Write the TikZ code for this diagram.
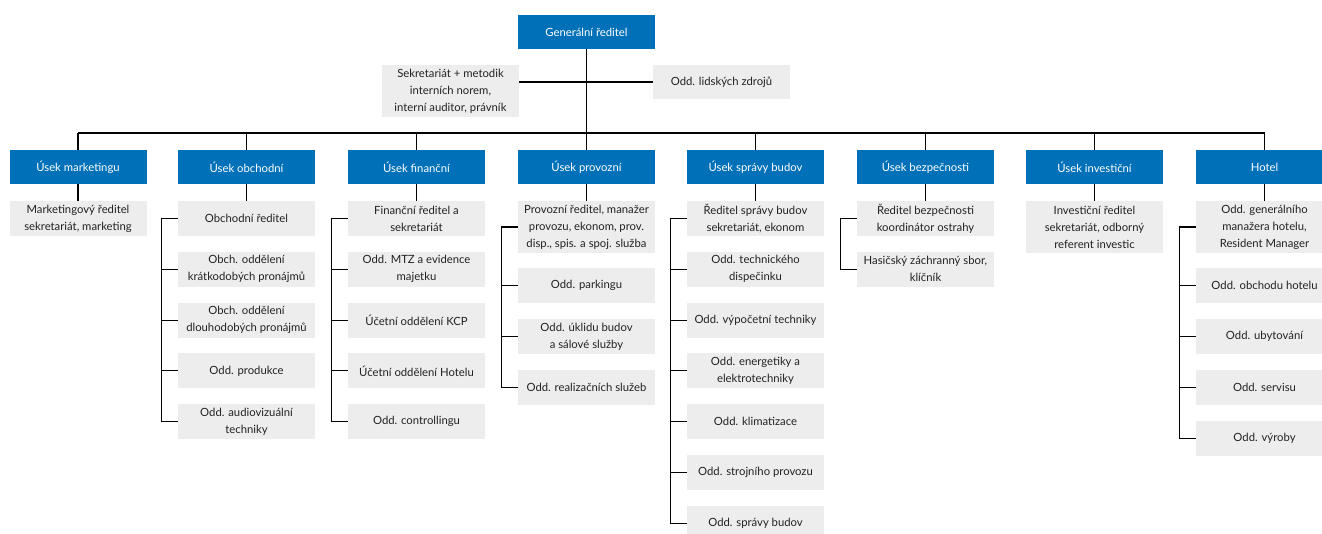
\documentclass[tikz,border=0pt]{standalone}
\usepackage{fontspec}
\setmainfont{Lato}
\definecolor{hdrblue}{HTML}{0070B8}
\definecolor{boxgray}{HTML}{EDEDED}
\definecolor{txtgray}{HTML}{222222}
\begin{document}
\begin{tikzpicture}[x=1pt,y=-1pt,
  base/.style={inner sep=0pt,minimum width=137pt,align=center,font=\fontsize{11.3}{17}\selectfont},
  hdr/.style={base,fill=hdrblue,text=white,minimum height=34pt},
  box/.style={base,fill=boxgray,text=txtgray,minimum height=35pt},
  tall/.style={base,fill=boxgray,text=txtgray,minimum height=52pt},
  conn/.style={draw=black,line width=1.1pt}]
\useasboundingbox (0,0) rectangle (1322,533);
\coordinate (bus) at (0,133);
% top
\node[hdr] (gr) at (586.5,32) {Generální ředitel};
\node[tall] (sek) at (450.5,91) {Sekretariát + metodik\\interních norem,\\interní auditor, právník};
\node[base,fill=boxgray,text=txtgray,minimum height=34pt] (lz) at (721.5,82) {Odd. lidských zdrojů};
% headers
\node[hdr] (h1) at (78,167) {Úsek marketingu};
\node[hdr] (h2) at (246.5,167) {Úsek obchodní};
\node[hdr] (h3) at (416.5,167) {Úsek finanční};
\node[hdr] (h4) at (586.5,167) {Úsek provozní};
\node[hdr] (h5) at (755.5,167) {Úsek správy budov};
\node[hdr] (h6) at (925.5,167) {Úsek bezpečnosti};
\node[hdr] (h7) at (1094.5,167) {Úsek investiční};
\node[hdr] (h8) at (1264.5,167) {Hotel};
% marketing
\node[box] (m1) at (78,218.5) {Marketingový ředitel\\sekretariát, marketing};
% obchodni
\node[box] (o1) at (246.5,218.5) {Obchodní ředitel};
\node[box] (o2) at (246.5,269.3) {Obch. oddělení\\krátkodobých pronájmů};
\node[box] (o3) at (246.5,320.1) {Obch. oddělení\\dlouhodobých pronájmů};
\node[box] (o4) at (246.5,370.9) {Odd. produkce};
\node[box] (o5) at (246.5,421.7) {Odd. audiovizuální\\techniky};
% financni
\node[box] (f1) at (416.5,218.5) {Finanční ředitel a\\sekretariát};
\node[box] (f2) at (416.5,269.3) {Odd. MTZ a evidence\\majetku};
\node[box] (f3) at (416.5,320.1) {Účetní oddělení KCP};
\node[box] (f4) at (416.5,370.9) {Účetní oddělení Hotelu};
\node[box] (f5) at (416.5,421.7) {Odd. controllingu};
% provozni
\node[tall] (p1) at (586.5,227) {Provozní ředitel, manažer\\provozu, ekonom, prov.\\disp., spis. a spoj. služba};
\node[box] (p2) at (586.5,285.5) {Odd. parkingu};
\node[box] (p3) at (586.5,336.5) {Odd. úklidu budov\\a sálové služby};
\node[box] (p4) at (586.5,387.5) {Odd. realizačních služeb};
% spravy budov
\node[box] (s1) at (755.5,218.5) {Ředitel správy budov\\sekretariát, ekonom};
\node[box] (s2) at (755.5,269.3) {Odd. technického\\dispečinku};
\node[box] (s3) at (755.5,320.1) {Odd. výpočetní techniky};
\node[box] (s4) at (755.5,370.9) {Odd. energetiky a\\elektrotechniky};
\node[box] (s5) at (755.5,421.7) {Odd. klimatizace};
\node[box] (s6) at (755.5,472.5) {Odd. strojního provozu};
\node[box] (s7) at (755.5,523.3) {Odd. správy budov};
% bezpecnosti
\node[box] (b1) at (925.5,218.5) {Ředitel bezpečnosti\\koordinátor ostrahy};
\node[box] (b2) at (925.5,269.3) {Hasičský záchranný sbor,\\klíčník};
% investicni
\node[tall] (i1) at (1094.5,227) {Investiční ředitel\\sekretariát, odborný\\referent investic};
% hotel
\node[tall] (t1) at (1264.5,227) {Odd. generálního\\manažera hotelu,\\Resident Manager};
\node[box] (t2) at (1264.5,285.5) {Odd. obchodu hotelu};
\node[box] (t3) at (1264.5,336.5) {Odd. ubytování};
\node[box] (t4) at (1264.5,387.5) {Odd. servisu};
\node[box] (t5) at (1264.5,438.5) {Odd. výroby};
% connectors top
\draw[conn] (gr.south) -- (gr.south |- bus);
\draw[conn] (sek.east |- lz.west) -- (lz.west);
\draw[conn] (h1.north |- bus) -- (h8.north |- bus);
\foreach \i in {1,...,8} \draw[conn] (h\i.north) -- (h\i.north |- bus);
% header to first
\draw[conn] (h1.south) -- (m1.north);
\draw[conn] (h2.south) -- (o1.north);
\draw[conn] (h3.south) -- (f1.north);
\draw[conn] (h4.south) -- (p1.north);
\draw[conn] (h5.south) -- (s1.north);
\draw[conn] (h6.south) -- (b1.north);
\draw[conn] (h7.south) -- (i1.north);
\draw[conn] (h8.south) -- (t1.north);
% brackets
\draw[conn] (o1.west) -- ++(-16,0) |- (o5.west);
\foreach \n in {o2,o3,o4} \draw[conn] (\n.west) -- ++(-16,0);
\draw[conn] (f1.west) -- ++(-16,0) |- (f5.west);
\foreach \n in {f2,f3,f4} \draw[conn] (\n.west) -- ++(-16,0);
\draw[conn] (p1.west) -- ++(-16,0) |- (p4.west);
\foreach \n in {p2,p3} \draw[conn] (\n.west) -- ++(-16,0);
\draw[conn] (s1.west) -- ++(-16,0) |- (s7.west);
\foreach \n in {s2,s3,s4,s5,s6} \draw[conn] (\n.west) -- ++(-16,0);
\draw[conn] (b1.west) -- ++(-16,0) |- (b2.west);
\draw[conn] (t1.west) -- ++(-16,0) |- (t5.west);
\foreach \n in {t2,t3,t4} \draw[conn] (\n.west) -- ++(-16,0);
\end{tikzpicture}
\end{document}
